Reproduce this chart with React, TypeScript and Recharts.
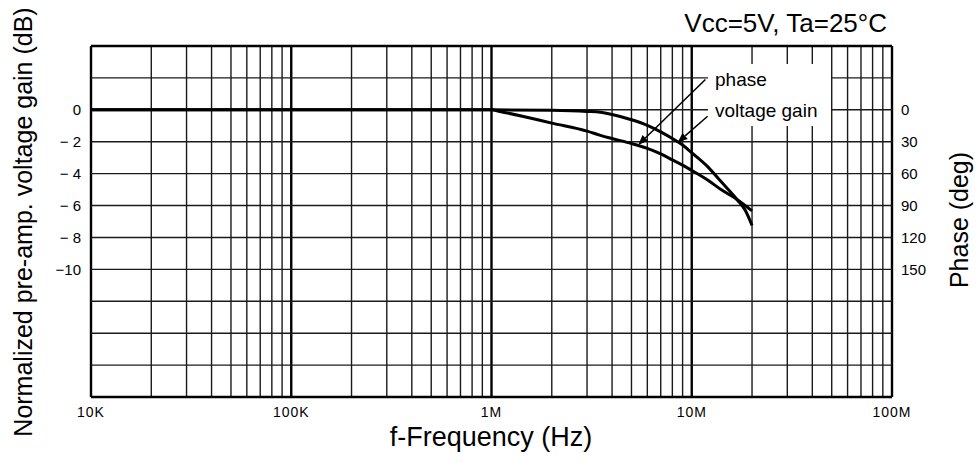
import { LineChart, Line, XAxis, YAxis, ReferenceLine } from 'recharts'

// frequency axis (Hz), log scale
const DECADES = [1e4, 1e5, 1e6, 1e7, 1e8]
const DECADE_LABELS = ['10K', '100K', '1M', '10M', '100M']
const MINOR_STEPS = [2, 3, 4, 5, 6, 7, 8, 9]

// left axis: normalized gain (dB)
const GAIN_TICKS = [0, -2, -4, -6, -8, -10]
const GRID_DB = [2, 0, -2, -4, -6, -8, -10, -12, -14, -16]

// right axis: phase (deg), grows downward
const PHASE_TICKS = [0, 30, 60, 90, 120, 150]

// voltage gain curve
const GAIN_FREQ = [1e4, 1e5, 1e6, 2e6, 3e6, 3.5e6, 4e6, 5e6, 6e6, 7e6, 8e6, 9e6, 10e6, 12e6, 14e6, 16.9e6, 18.5e6, 20e6]
const GAIN_DB = [0, 0, 0, -0.03, -0.1, -0.15, -0.29, -0.62, -0.97, -1.38, -1.8, -2.21, -2.69, -3.56, -4.5, -5.65, -6.3, -7.25]

// phase curve
const PHASE_FREQ = [1e4, 1e5, 1e6, 1.1e6, 1.5e6, 2e6, 3e6, 3.5e6, 4e6, 5e6, 6e6, 7e6, 8e6, 9e6, 10e6, 12e6, 14e6, 16.9e6, 20e6]
const PHASE_DEG = [0, 0, 0, 1.5, 7, 12.5, 20, 24, 27, 31.7, 36.3, 41.5, 47, 52, 57, 66, 75, 84.5, 95]

const gainData = GAIN_FREQ.map((f, i) => ({ f, gain: GAIN_DB[i] }))
const phaseData = PHASE_FREQ.map((f, i) => ({ f, phase: PHASE_DEG[i] }))
const minorFreqs = DECADES.slice(0, 4).flatMap((d) => MINOR_STEPS.map((m) => d * m))

const FONT = '"Liberation Sans", Arial, Helvetica, sans-serif'

function fmtGain(v: number) {
  if (v === 0) return '0'
  if (v <= -10) return `−${-v}`
  return `− ${-v}`
}

function fmtFreq(v: number) {
  const i = DECADES.indexOf(v)
  return i >= 0 ? DECADE_LABELS[i] : ''
}

function Arrow(props: any) {
  const { x1, y1, x2, y2 } = props
  const a = Math.atan2(y2 - y1, x2 - x1)
  const len = 10
  const w = 4
  const bx = x2 - len * Math.cos(a)
  const by = y2 - len * Math.sin(a)
  const px = -Math.sin(a) * w
  const py = Math.cos(a) * w
  return (
    <g>
      <line x1={x1} y1={y1} x2={bx} y2={by} stroke="#000" strokeWidth={1.5} />
      <polygon points={`${x2},${y2} ${bx + px},${by + py} ${bx - px},${by - py}`} fill="#000" />
    </g>
  )
}

export default function App() {
  return (
    <div style={{ position: 'absolute', left: 0, top: 0, width: 977, height: 463, background: '#fff', fontFamily: FONT }}>
      <LineChart width={977} height={463} data={gainData} margin={{ top: 46, right: 45, bottom: 36, left: 51 }}>
        <XAxis
          dataKey="f"
          type="number"
          scale="log"
          domain={[1e4, 1e8]}
          ticks={DECADES}
          tickFormatter={fmtFreq}
          allowDataOverflow
          axisLine={false}
          tickLine={false}
          tickMargin={4}
          tick={{ fill: '#000', fontSize: 14, fontFamily: FONT, letterSpacing: 1 }}
        />
        <YAxis
          yAxisId="left"
          type="number"
          domain={[-18, 4]}
          ticks={GAIN_TICKS}
          tickFormatter={fmtGain}
          allowDataOverflow
          axisLine={false}
          tickLine={false}
          tickMargin={4}
          width={40}
          tick={{ fill: '#000', fontSize: 15, fontFamily: FONT }}
        />
        <YAxis
          yAxisId="right"
          orientation="right"
          type="number"
          domain={[-60, 270]}
          reversed
          ticks={PHASE_TICKS}
          allowDataOverflow
          axisLine={false}
          tickLine={false}
          tickMargin={3}
          width={40}
          tick={{ fill: '#000', fontSize: 15, fontFamily: FONT }}
        />

        {/* grid */}
        {minorFreqs.map((f) => (
          <ReferenceLine key={`m${f}`} yAxisId="left" x={f} stroke="#1a1a1a" strokeWidth={1.4} />
        ))}
        {DECADES.map((f) => (
          <ReferenceLine key={`d${f}`} yAxisId="left" x={f} stroke="#000" strokeWidth={2.4} />
        ))}
        {GRID_DB.map((v) => (
          <ReferenceLine key={`h${v}`} yAxisId="left" y={v} stroke="#1a1a1a" strokeWidth={1.4} />
        ))}
        <ReferenceLine yAxisId="left" y={4} stroke="#000" strokeWidth={2.4} />
        <ReferenceLine yAxisId="left" y={-18} stroke="#000" strokeWidth={2.4} />

        <Line
          yAxisId="left"
          data={gainData}
          dataKey="gain"
          type="monotone"
          stroke="#000"
          strokeWidth={3}
          dot={false}
          isAnimationActive={false}
        />
        <Line
          yAxisId="right"
          data={phaseData}
          dataKey="phase"
          type="monotone"
          stroke="#000"
          strokeWidth={3}
          dot={false}
          isAnimationActive={false}
        />

        {/* annotation arrows */}
        <ReferenceLine
          yAxisId="left"
          segment={[{ x: 11.7e6, y: 1.9 }, { x: 5.4e6, y: -2.2 }]}
          shape={Arrow}
          ifOverflow="visible"
        />
        <ReferenceLine
          yAxisId="left"
          segment={[{ x: 12.0e6, y: -0.4 }, { x: 8.5e6, y: -2.05 }]}
          shape={Arrow}
          ifOverflow="visible"
        />
      </LineChart>

      <svg width={977} height={463} style={{ position: 'absolute', left: 0, top: 0, pointerEvents: 'none' }}>
        <rect x={708} y={64} width={123} height={62} fill="#fff" />
        <text x={715} y={86} fontSize={19} fontFamily={FONT} fill="#000">phase</text>
        <text x={715} y={117} fontSize={19} fontFamily={FONT} fill="#000">voltage gain</text>
        <text x={887} y={32} fontSize={26} fontFamily={FONT} fill="#000" textAnchor="end">Vcc=5V, Ta=25°C</text>
        <text x={491} y={446} fontSize={27} fontFamily={FONT} fill="#000" textAnchor="middle">f-Frequency (Hz)</text>
        <text transform="translate(32,222) rotate(-90)" fontSize={25} fontFamily={FONT} fill="#000" textAnchor="middle">
          Normalized pre-amp. voltage gain (dB)
        </text>
        <text transform="translate(968,220) rotate(-90)" fontSize={25} fontFamily={FONT} fill="#000" textAnchor="middle">
          Phase (deg)
        </text>
      </svg>
    </div>
  )
}
